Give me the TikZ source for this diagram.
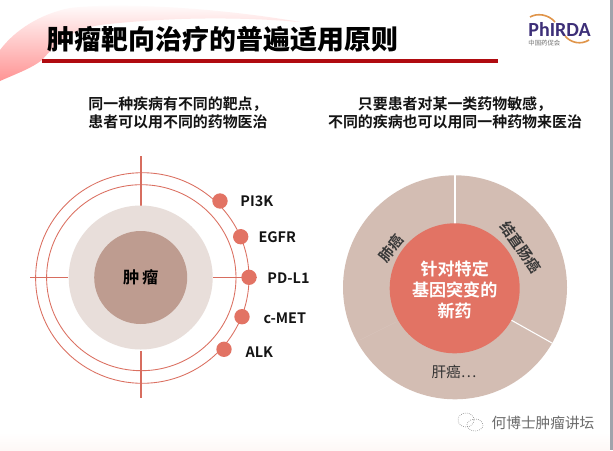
\documentclass[tikz,border=0pt]{standalone}
\usepackage{fontspec}
\setmainfont{Liberation Sans}
\newfontfamily\cjk{Noto Sans CJK SC}
\newfontfamily\cjkbold{Noto Sans CJK SC Bold}
\newfontfamily\cjkheavy{Noto Sans CJK SC Black}
\newfontfamily\logofont{Carlito}
\usepackage{xcolor}
\usetikzlibrary{positioning}
\definecolor{coral}{HTML}{E27364}
\definecolor{paleskin}{HTML}{E8DEDA}
\definecolor{tumorskin}{HTML}{BE9C90}
\definecolor{piefill}{HTML}{D3BDB3}
\definecolor{crimson}{HTML}{B00B10}
\definecolor{logoink}{HTML}{3D2F78}
\definecolor{logoarc}{HTML}{E0954A}
\definecolor{edgegray}{HTML}{A0A3AB}
\definecolor{footblush}{HTML}{FEF8F6}

\begin{document}
\begin{tikzpicture}[x=0.75pt,y=-0.75pt,
    ring/.style={draw=coral!97!black,line width=0.65pt},
    cross/.style={draw=coral!95!black,line width=1.2pt},
    target/.style={circle,fill=coral,minimum size=11.5pt,inner sep=0pt},
    gene/.style={font=\cjkbold\fontsize{10.8}{12}\selectfont,text=black!92,inner sep=0pt},
    lead/.style={font=\cjkbold\fontsize{11.2}{13.5}\selectfont,align=center,text=black!92},
    slice/.style={font=\cjkbold\fontsize{11}{12}\selectfont,text=black!78,inner sep=0pt}
  ]
    \useasboundingbox (0,0) rectangle (613,450);
    \fill[white] (0,0) rectangle (613,450);
    \shade[top color=white,bottom color=footblush] (0,432) rectangle (610,450);
    \fill[edgegray] (610,0) rectangle (613,450);
    % Swoosh behind the title, tapering out to the right.
    \shade[top color=white,bottom color=red!42!white]
      (0,81) .. controls (18,73) and (32,68) .. (42,60)
      .. controls (58,42) and (70,30) .. (100,25)
      .. controls (160,18) and (230,16) .. (300,22)
      .. controls (220,8) and (120,2) .. (70,8)
      .. controls (40,14) and (15,30) .. (0,50) -- cycle;
    \fill[crimson] (42,59) rectangle (498,63);

    \node[font=\cjkheavy\fontsize{20.2}{24}\selectfont,text=black,inner sep=0pt] (title) at (223,39) {肿瘤靶向治疗的普遍适用原则};

    % Logo
    \node[font=\logofont\bfseries\fontsize{15}{16}\selectfont,text=logoink,inner sep=0pt] (logo) at (559.5,29.5) {PhIRDA};
    \node[font=\cjk\fontsize{4.8}{5}\selectfont,text=black!55,inner sep=0pt,anchor=north west,yshift=-2pt] (logosub) at (logo.south west) {中国药促会};
    \draw[logoarc,line width=1.2pt] (530,17) .. controls (537,13) and (548,14) .. (555,22);
    \draw[logoarc,line width=1.2pt] (565,36) .. controls (571,43) and (581,45) .. (589,40);

    \node[lead] (leftlead) at (178,113) {同一种疾病有不同的靶点，\\患者可以用不同的药物医治};
    \node[lead] (rightlead) at (455,113) {只要患者对某一类药物敏感，\\不同的疾病也可以用同一种药物来医治};

    % Target rings
    \coordinate (core) at (140.7,277.5);
    \draw[ring] (142.3,278) ellipse[x radius=106.7,y radius=105.3];
    \draw[ring] (141.3,277.7) ellipse[x radius=94.7,y radius=93];
    \draw[cross] (140.7,156) -- (140.7,207);
    \draw[cross] (140.7,351) -- (140.7,398);
    \draw[cross] (30,277.5) -- (68,277.5);
    \draw[cross] (213,277.5) -- (257,277.5);
    \fill[paleskin] (core) circle[radius=72];
    \fill[tumorskin] (core) circle[radius=46.5];
    \node[font=\cjkbold\fontsize{12.2}{13}\selectfont,text=black] (tumor) at (core) {肿\,瘤};

    \node[target] (pi3k) at (220,201) {};
    \node[target] (egfr) at (240.7,236.7) {};
    \node[target] (pdl1) at (249,277.3) {};
    \node[target] (cmet) at (242,316.7) {};
    \node[target] (alk) at (224,349.3) {};
    \node[gene,right=9.2pt of pi3k] (pi3klabel) {PI3K};
    \node[gene,right=7.2pt of egfr] (egfrlabel) {EGFR};
    \node[gene,right=7.7pt of pdl1,yshift=-1pt] (pdl1label) {PD-L1};
    \node[gene,right=10pt of cmet,yshift=-1pt] (cmetlabel) {c-MET};
    \node[gene,right=10pt of alk,yshift=-2pt] (alklabel) {ALK};

    % Pie with three slices
    \coordinate (drug) at (455,287.3);
    \fill[piefill] (drug) circle[radius=112];
    \draw[white,line width=1pt] (455,175) -- (455,230);
    \draw[white,line width=0.8pt] (511,320) -- (552,343);
    \draw[white!12!piefill,line width=0.3pt] (360,340) -- (396,322);
    \fill[coral] (454.7,288.3) circle[radius=65];
    \node[font=\cjkbold\fontsize{12.8}{15.8}\selectfont,text=white,align=center,inner sep=0pt] (drugname) at (454.7,289.5) {针对特定\\基因突变的\\新药};
    \node[slice,rotate=52] (lung) at (391.5,248) {肺癌};
    \node[slice,rotate=-55] (colon) at (520.7,247.7) {结直肠癌};
    \node[font=\cjk\fontsize{11}{12}\selectfont,text=black!80,inner sep=0pt] (liver) at (454,372) {肝癌…};

    % Watermark
    \draw[black!45,densely dotted,line width=0.5pt] (466,420) ellipse[x radius=8,y radius=7];
    \draw[black!45,densely dotted,line width=0.5pt] (475,425) ellipse[x radius=8,y radius=6];
    \node[font=\cjk\fontsize{11}{12}\selectfont,text=black!58,inner sep=0pt] (mark) at (543,423) {何博士肿瘤讲坛};
  \end{tikzpicture}
\end{document}
